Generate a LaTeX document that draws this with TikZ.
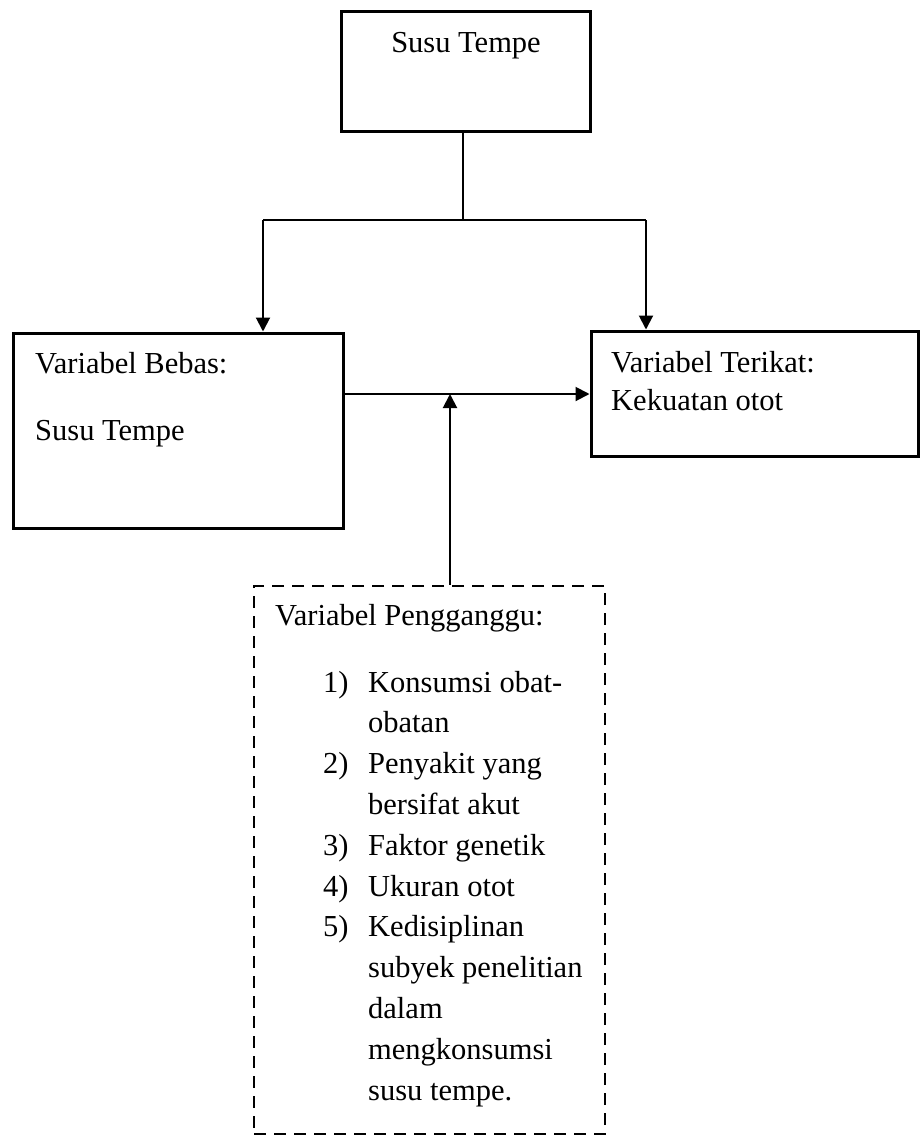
\documentclass[tikz,border=0pt]{standalone}
\usepackage{fontspec}
\setmainfont{Liberation Serif}
\usetikzlibrary{arrows.meta}
\begin{document}
\begin{tikzpicture}[x=1pt,y=-1pt,
  box/.style={draw,line width=3pt,rectangle,inner sep=0pt},
  dbox/.style={draw,line width=2.4pt,rectangle,inner sep=0pt,dash pattern=on 12pt off 8pt},
  conn/.style={line width=2pt},
  arr/.style={line width=2pt,-{Triangle[length=14pt,width=14pt]}},
  txt/.style={anchor=base west,inner sep=0pt,font=\fontsize{30.5}{36}\selectfont},
  ctxt/.style={anchor=base,inner sep=0pt,font=\fontsize{30.5}{36}\selectfont}]
\useasboundingbox (0,0) rectangle (920,1136);
% boxes
\node[box,minimum width=249pt,minimum height=120pt] (top) at (465.5,71) {};
\node[box,minimum width=330pt,minimum height=195pt] (bebas) at (178,430.5) {};
\node[box,minimum width=327pt,minimum height=125pt] (terikat) at (754.5,393.5) {};
\node[dbox,minimum width=351pt,minimum height=548pt] (ganggu) at (429.5,860) {};
% texts
\node[ctxt] (tTop) at (466,52) {Susu Tempe};
\node[txt] (tB1) at (35,373) {Variabel Bebas:};
\node[txt] (tB2) at (35,440) {Susu Tempe};
\node[txt] (tT1) at (611,372) {Variabel Terikat:};
\node[txt] (tT2) at (611,410) {Kekuatan otot};
\node[txt] (tG) at (275,625) {Variabel Pengganggu:};
\foreach \i/\n/\t in {0/1)/Konsumsi obat-, 1//obatan, 2/2)/Penyakit yang, 3//bersifat akut,
  4/3)/Faktor genetik, 5/4)/Ukuran otot, 6/5)/Kedisiplinan, 7//subyek penelitian,
  8//dalam, 9//mengkonsumsi, 10//susu tempe.}{
  \node[txt] (n\i) at (323,692+\i*40.8) {\n};
  \node[txt] (l\i) at (368,692+\i*40.8) {\t};
}
% connectors
\coordinate (j) at (463,220);
\coordinate (jl) at (263,220);
\coordinate (jr) at (646,220);
\coordinate (h) at (450,394);
\draw[conn] (top.south -| j) -- (j);
\draw[conn] (jl) -- (jr);
\draw[arr] (jl) -- (jl |- bebas.north);
\draw[arr] (jr) -- (jr |- terikat.north);
\draw[arr] (bebas.east |- h) -- (terikat.west |- h);
\draw[arr] (ganggu.north -| h) -- (h);
\end{tikzpicture}
\end{document}
